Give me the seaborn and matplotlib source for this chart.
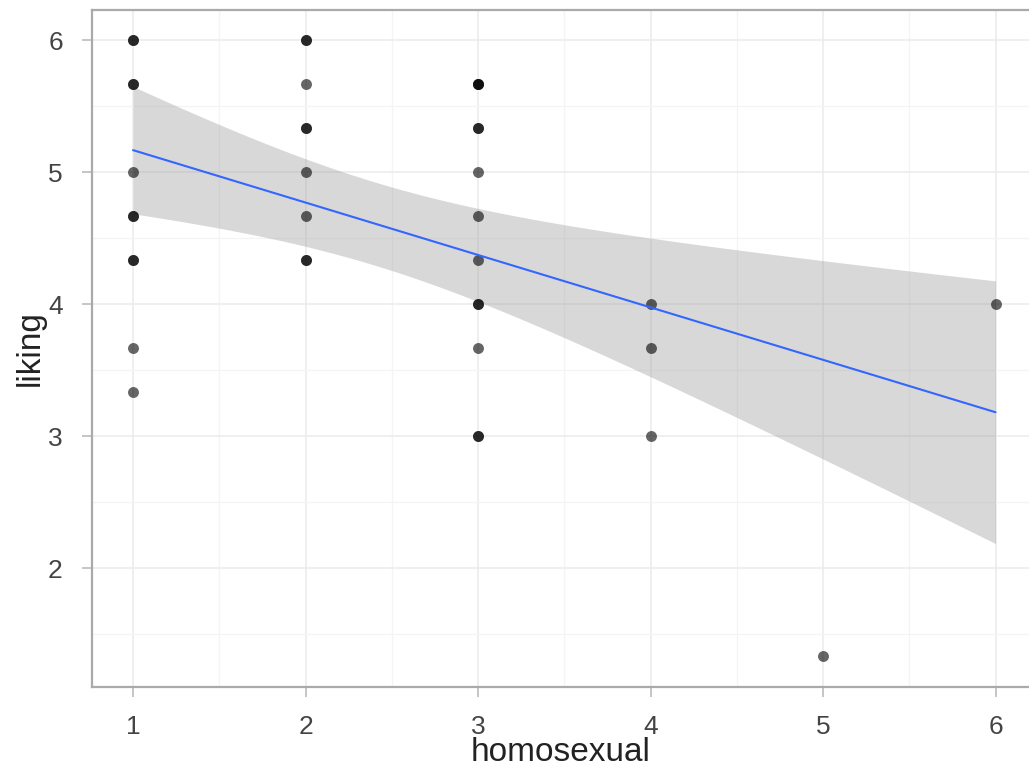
import numpy as np
import pandas as pd
import matplotlib
matplotlib.use('Agg')
import matplotlib.pyplot as plt
import seaborn as sns

homosexual = [1, 1, 1, 1, 1, 1, 1, 1, 1, 1, 1,
              2, 2, 2, 2, 2, 2, 2, 2, 2,
              3, 3, 3, 3, 3, 3, 3, 3, 3, 3, 3, 3, 3,
              4, 4, 4,
              5,
              6]
liking = [6, 6, 17/3, 17/3, 5, 14/3, 14/3, 13/3, 13/3, 11/3, 10/3,
          6, 6, 17/3, 16/3, 16/3, 5, 14/3, 13/3, 13/3,
          17/3, 17/3, 17/3, 16/3, 16/3, 5, 14/3, 13/3, 4, 4, 11/3, 3, 3,
          4, 11/3, 3,
          4/3,
          4]

x_ticks = [1, 2, 3, 4, 5, 6]
y_ticks = [2, 3, 4, 5, 6]

df = pd.DataFrame({'homosexual': homosexual, 'liking': liking})

sns.set_style('white')
plt.rcParams['font.family'] = ['Liberation Sans', 'DejaVu Sans']

fig = plt.figure(figsize=(10.29, 7.74), dpi=100)
ax = fig.add_axes([0.0894, 0.1124, 0.9116, 0.8747])

sns.regplot(x='homosexual', y='liking', data=df, ax=ax, ci=None,
            scatter_kws={'color': 'black', 'alpha': 0.6, 's': 62, 'linewidths': 0, 'zorder': 3},
            line_kws={'color': '#3366FF', 'lw': 1.5, 'zorder': 4})

# ggplot-style (analytic) 95% confidence ribbon for the lm fit
x = df['homosexual'].to_numpy(float)
y = df['liking'].to_numpy(float)
n = len(x)
b1, b0 = np.polyfit(x, y, 1)
resid = y - (b0 + b1 * x)
s = np.sqrt((resid ** 2).sum() / (n - 2))
grid = np.linspace(x.min(), x.max(), 100)
se = s * np.sqrt(1 / n + (grid - x.mean()) ** 2 / ((x - x.mean()) ** 2).sum())
t = 2.03  # t(0.975, df ~ 36)
fit = b0 + b1 * grid
ax.fill_between(grid, fit - t * se, fit + t * se, color='#999999', alpha=0.38,
                linewidth=0, zorder=2)

ax.set_xlim(0.762, 6.2)
ax.set_ylim(1.10, 6.23)
ax.set_xticks(x_ticks)
ax.set_yticks(y_ticks)
ax.set_xticks([1.5, 2.5, 3.5, 4.5, 5.5], minor=True)
ax.set_yticks([1.5, 2.5, 3.5, 4.5, 5.5], minor=True)
ax.grid(True, which='major', color='#ebebeb', lw=1.1, zorder=0)
ax.grid(True, which='minor', color='#f4f4f4', lw=0.9, zorder=0)
ax.set_axisbelow(True)

for side in ['left', 'top', 'bottom']:
    ax.spines[side].set_color('#aaaaaa')
    ax.spines[side].set_linewidth(1.6)
ax.spines['right'].set_visible(False)

ax.tick_params(axis='both', which='major', bottom=True, left=True, length=7, width=1.2,
               color='#bbbbbb', labelsize=19, labelcolor='#444444')
ax.tick_params(axis='x', which='major', pad=13)
ax.tick_params(axis='y', which='major', pad=14)
ax.tick_params(axis='both', which='minor', length=0)

ax.set_xlabel('homosexual', fontsize=24, color='#222222', labelpad=-1)
ax.set_ylabel('liking', fontsize=24, color='#222222', labelpad=2)

fig.savefig('out.png', dpi=100)
